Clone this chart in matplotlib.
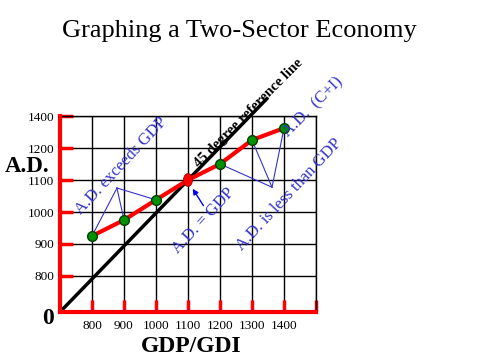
import matplotlib
matplotlib.use("Agg")
import matplotlib.pyplot as plt
from matplotlib.patches import Ellipse

# data
gdp = [800, 900, 1000, 1100, 1200, 1300, 1400]
ad = [925, 975, 1038, 1100, 1150, 1225, 1262]
x_ticks = [800, 900, 1000, 1100, 1200, 1300, 1400]
y_ticks = [800, 900, 1000, 1100, 1200, 1300]
y_tick_labels = ["800", "900", "1000", "1100", "1200", "1400"]

serif = ["Liberation Serif", "DejaVu Serif"]
plt.rcParams["font.family"] = serif


# broken axis: origin is 0, grid starts at 800
def gx(v):
    return (v - 700) / 100


def gy(v):
    return (v - 700) / 100 + 0.125


fig = plt.figure(figsize=(4.8, 3.6), dpi=100)
ax = fig.add_axes([60 / 480, 48 / 360, 256 / 480, 196 / 360])
ax.set_xlim(0, 8)
ax.set_ylim(0, gy(1300))

ax.set_xticks([gx(v) for v in x_ticks] + [8])
ax.set_xticklabels([str(v) for v in x_ticks] + [""])
ax.set_yticks([gy(v) for v in y_ticks])
ax.set_yticklabels(y_tick_labels)
ax.grid(True, color="black", linewidth=1.0)
ax.tick_params(direction="in", color="red", length=9, width=2.5,
               labelsize=9.5, pad=4)
ax.tick_params(axis="x", pad=6)
for s in ("left", "bottom"):
    ax.spines[s].set_color("red")
    ax.spines[s].set_linewidth(3)
    ax.spines[s].set_zorder(5)
for s in ("top", "right"):
    ax.spines[s].set_color("black")
    ax.spines[s].set_linewidth(1.0)

# 45 degree reference line
ax.plot([0, 6.5], [0, 6.5 * gy(1100) / gx(1100)], color="black", lw=2.5,
        clip_on=False, zorder=3, solid_capstyle="butt")
ax.text(5.88, 6.22, "45 degree reference line", rotation=45, fontsize=10.5,
        fontweight="bold", ha="center", va="center", color="black", zorder=6)

# aggregate demand curve
xs = [gx(v) for v in gdp]
ys = [gy(v) for v in ad]
ax.plot(xs, ys, color="red", lw=3, solid_joinstyle="round", zorder=4, clip_on=False)
ax.plot([x for i, x in enumerate(xs) if i != 3], [y for i, y in enumerate(ys) if i != 3],
        "o", color="#009000", mec="#004000", ms=7, zorder=6, clip_on=False)
ax.add_patch(Ellipse((xs[3], ys[3]), 0.28, 0.4, facecolor="red",
                     edgecolor="#a00000", lw=0.6, zorder=7))

blue = "#3333cc"
# leader lines
v1 = (1.78, 3.875)
for i in range(3):
    ax.plot([v1[0], xs[i]], [v1[1], ys[i]], color=blue, lw=0.8, zorder=5)
v2 = (6.625, 3.9)
for i in range(4, 7):
    ax.plot([v2[0], xs[i]], [v2[1], ys[i]], color=blue, lw=0.8, zorder=5)
ax.annotate("", xy=(xs[3] + 0.1, ys[3] - 0.2), xytext=(4.53, 3.25),
            arrowprops=dict(arrowstyle="-|>", color="blue", lw=1.0,
                            mutation_scale=8), zorder=6)

ax.text(1.93, 4.55, "A.D. exceeds GDP", rotation=47, color=blue, fontsize=12,
        ha="center", va="center", zorder=6)
ax.text(4.47, 2.84, "A.D. = GDP", rotation=47, color=blue, fontsize=12,
        ha="center", va="center", zorder=6)
ax.text(7.15, 3.66, "A.D. is less than GDP", rotation=47, color=blue,
        fontsize=12, ha="center", va="center", zorder=6)
ax.text(7.9, 6.4, "A.D.  (C+I)", rotation=45, color=blue, fontsize=12,
        ha="center", va="center", zorder=6, clip_on=False)

fig.text(239 / 480, 1 - 31 / 360, "Graphing a Two-Sector Economy",
         fontsize=19, ha="center", va="center")
fig.text(27 / 480, 1 - 166 / 360, "A.D.", fontsize=16.5, fontweight="bold",
         ha="center", va="center")
fig.text(48 / 480, 1 - 318 / 360, "0", fontsize=17, fontweight="bold",
         ha="center", va="center")
fig.text(191 / 480, 1 - 346 / 360, "GDP/GDI", fontsize=17, fontweight="bold",
         ha="center", va="center")

fig.savefig("out.png", dpi=100)
